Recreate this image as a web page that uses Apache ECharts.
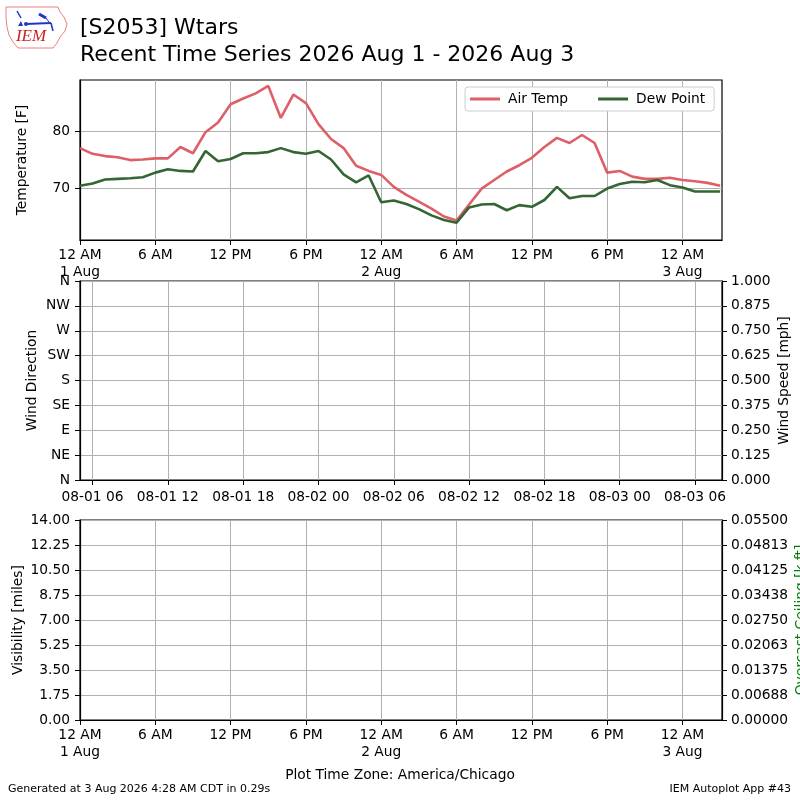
<!DOCTYPE html>
<html><head><meta charset="utf-8">
<script src="https://cdn.jsdelivr.net/npm/echarts@6/dist/echarts.min.js"></script>
<style>html,body{margin:0;padding:0;background:#fff}#c{width:800px;height:800px}</style>
</head><body><div id="c"></div>
<script>
// Observation times: hours since 1 Aug 2026 00:00 local (America/Chicago)
const hours = [0,1,2,3,4,5,6,7,8,9,10,11,12,13,14,15,16,17,18,19,20,21,22,23,24,25,26,27,28,29,30,31,32,33,34,35,36,37,38,39,40,41,42,43,44,45,46,47,48,49,50,51];
const airTemp = [77.0,76.0,75.6,75.4,74.9,75.0,75.2,75.2,77.2,76.1,79.8,81.5,84.7,85.7,86.6,87.9,82.3,86.4,84.9,81.2,78.6,77.0,73.9,73.0,72.3,70.2,68.8,67.6,66.4,65.0,64.3,67.1,69.9,71.4,72.9,74.0,75.3,77.2,78.8,77.9,79.3,77.9,72.7,73.0,72.0,71.6,71.6,71.8,71.4,71.2,70.9,70.4];
const dewPoint = [70.4,70.8,71.5,71.6,71.7,71.9,72.7,73.3,73.0,72.9,76.5,74.7,75.1,76.1,76.1,76.3,77.0,76.3,76.0,76.5,75.0,72.4,71.0,72.2,67.5,67.8,67.2,66.3,65.2,64.4,63.9,66.6,67.1,67.2,66.1,67.0,66.7,67.9,70.2,68.2,68.6,68.6,69.9,70.7,71.1,71.0,71.4,70.5,70.1,69.4,69.4,69.4];

const timeTicks = [0,6,12,18,24,30,36,42,48];
const timeLabels = ['12 AM\n1 Aug','6 AM','12 PM','6 PM','12 AM\n2 Aug','6 AM','12 PM','6 PM','12 AM\n3 Aug'];
const windTimeTicks = [1,7,13,19,25,31,37,43,49];
const windTimeLabels = ['08-01 06','08-01 12','08-01 18','08-02 00','08-02 06','08-02 12','08-02 18','08-03 00','08-03 06'];
const tempTicks = [70,80];
const dirLabels = ['N','NE','E','SE','S','SW','W','NW','N'];
const speedLabels = ['0.000','0.125','0.250','0.375','0.500','0.625','0.750','0.875','1.000'];
const visLabels = ['0.00','1.75','3.50','5.25','7.00','8.75','10.50','12.25','14.00'];
const ceilLabels = ['0.00000','0.00688','0.01375','0.02063','0.02750','0.03438','0.04125','0.04813','0.05500'];

const FONT = 'DejaVu Sans';
const xMax = 51.15;
const gridLine = {show:true, lineStyle:{color:'#b0b0b0', width:1}};
const axLine = {show:true, onZero:false, lineStyle:{color:'#000', width:1.2}};

function xAxisCfg(gi, ticks, labels, margin) {
  return {
    type:'value', gridIndex:gi, min:0, max:xMax,
    axisLine:axLine,
    axisTick:{show:true, length:5, lineStyle:{color:'#000', width:1}, customValues:ticks},
    axisLabel:{customValues:ticks, formatter:v => { const i = ticks.indexOf(v); return i >= 0 ? labels[i] : ''; },
      fontFamily:FONT, fontSize:13.8, color:'#000', margin:margin, lineHeight:17, hideOverlap:false},
    splitLine:gridLine
  };
}
function yAxisCfg(gi, opts) {
  return Object.assign({
    type:'value', gridIndex:gi,
    axisLine:axLine,
    axisTick:{show:true, length:5, lineStyle:{color:'#000', width:1}},
    splitLine:gridLine,
    nameLocation:'middle', nameRotate:90, nameMoveOverlap:false,
    nameTextStyle:{fontFamily:FONT, fontSize:13.8, color:'#000'}
  }, opts);
}
const lblStyle = {fontFamily:FONT, fontSize:13.8, color:'#000', margin:10};
const gridBase = {left:80, width:642, show:true, borderColor:'#000', borderWidth:1.2, containLabel:false, outerBoundsMode:'none'};

const chart = echarts.init(document.getElementById('c'), null, {renderer:'canvas'});
chart.setOption({
  animation:false,
  backgroundColor:'#fff',
  grid:[
    Object.assign({top:80, height:160}, gridBase),
    Object.assign({top:281, height:199}, gridBase),
    Object.assign({top:520, height:200}, gridBase)
  ],
  legend:{
    left:465, top:87, padding:[5,9,5,5], itemGap:30, itemWidth:30, itemHeight:3,
    backgroundColor:'#fff', borderColor:'#cccccc', borderWidth:1, borderRadius:3,
    selectedMode:false,
    textStyle:{fontFamily:FONT, fontSize:13.8, color:'#000', padding:[0,0,0,3]},
    data:[{name:'Air Temp', icon:'rect'}, {name:'Dew Point', icon:'rect'}]
  },
  xAxis:[
    xAxisCfg(0, timeTicks, timeLabels, 7),
    xAxisCfg(1, windTimeTicks, windTimeLabels, 9),
    xAxisCfg(2, timeTicks, timeLabels, 7)
  ],
  yAxis:[
    yAxisCfg(0, {min:60.88, max:88.95, name:'Temperature [F]', nameGap:51,
      axisTick:{show:true, length:5, lineStyle:{color:'#000', width:1}, customValues:tempTicks},
      axisLabel:Object.assign({customValues:tempTicks}, lblStyle)}),
    yAxisCfg(1, {min:0, max:360, interval:45, name:'Wind Direction', nameGap:41,
      axisLabel:Object.assign({formatter:v => dirLabels[Math.round(v/45)]}, lblStyle)}),
    yAxisCfg(1, {position:'right', min:0, max:1, interval:0.125, name:'Wind Speed [mph]', nameGap:55,
      splitLine:{show:false},
      axisLabel:Object.assign({formatter:v => speedLabels[Math.round(v/0.125)]}, lblStyle, {margin:9})}),
    yAxisCfg(2, {min:0, max:14, interval:1.75, name:'Visibility [miles]', nameGap:55,
      axisLabel:Object.assign({formatter:v => visLabels[Math.round(v/1.75)]}, lblStyle)}),
    yAxisCfg(2, {position:'right', min:0, max:0.055, interval:0.006875, name:'Overcast Ceiling [k ft]', nameGap:72,
      splitLine:{show:false},
      nameTextStyle:{fontFamily:FONT, fontSize:13.8, color:'#008000'},
      axisLabel:Object.assign({formatter:v => { const i = Math.round(v/0.006875); return ceilLabels[i] || ''; }}, lblStyle, {margin:9})})
  ],
  series:[
    {name:'Air Temp', type:'line', xAxisIndex:0, yAxisIndex:0, symbol:'none', smooth:false,
      itemStyle:{color:'#df5f68'}, lineStyle:{color:'#df5f68', width:2.6},
      data:hours.map((h,i) => [h, airTemp[i]])},
    {name:'Dew Point', type:'line', xAxisIndex:0, yAxisIndex:0, symbol:'none', smooth:false,
      itemStyle:{color:'#336633'}, lineStyle:{color:'#336633', width:2.6},
      data:hours.map((h,i) => [h, dewPoint[i]])}
  ],
  graphic:[
    {type:'text', style:{text:'[S2053] Wtars', x:80, y:28, fontFamily:FONT, fontSize:22, fill:'#000', align:'left', verticalAlign:'middle'}},
    {type:'text', style:{text:'Recent Time Series 2026 Aug 1 - 2026 Aug 3', x:80, y:55, fontFamily:FONT, fontSize:22, fill:'#000', align:'left', verticalAlign:'middle'}},
    {type:'text', style:{text:'Plot Time Zone: America/Chicago', x:400, y:775, fontFamily:FONT, fontSize:13.8, fill:'#000', align:'center', verticalAlign:'middle'}},
    {type:'text', style:{text:'Generated at 3 Aug 2026 4:28 AM CDT in 0.29s', x:8, y:789, fontFamily:FONT, fontSize:11, fill:'#000', align:'left', verticalAlign:'middle'}},
    {type:'text', style:{text:'IEM Autoplot App #43', x:791, y:789, fontFamily:FONT, fontSize:11, fill:'#000', align:'right', verticalAlign:'middle'}},
    // IEM logo approximation
    {type:'polyline', shape:{points:[[6,7],[58,7],[60,12],[64,17],[67,24],[65,31],[60,37],[57,43],[53,48],[18,48],[13,42],[9,35],[7,27],[6,18],[6,7]]},
      style:{stroke:'#e88080', lineWidth:1, fill:null}},
    {type:'line', shape:{x1:17, y1:11, x2:21, y2:18}, style:{stroke:'#2233cc', lineWidth:1.5}},
    {type:'polygon', shape:{points:[[18,26],[21,21],[23,26]]}, style:{fill:'#2233cc'}},
    {type:'circle', shape:{cx:26, cy:24, r:2}, style:{fill:'#2233cc'}},
    {type:'line', shape:{x1:26, y1:24, x2:51, y2:23}, style:{stroke:'#2233cc', lineWidth:2}},
    {type:'line', shape:{x1:39, y1:14, x2:46, y2:18}, style:{stroke:'#2233cc', lineWidth:3}},
    {type:'line', shape:{x1:46, y1:18, x2:49, y2:22}, style:{stroke:'#2233cc', lineWidth:1}},
    {type:'line', shape:{x1:51, y1:23, x2:53, y2:31}, style:{stroke:'#2233cc', lineWidth:1.5}},
    {type:'text', style:{text:'IEM', x:31, y:37, fontFamily:'Liberation Serif', fontStyle:'italic', fontSize:17, fill:'#cc2222', align:'center', verticalAlign:'middle'}}
  ]
});
</script></body></html>
